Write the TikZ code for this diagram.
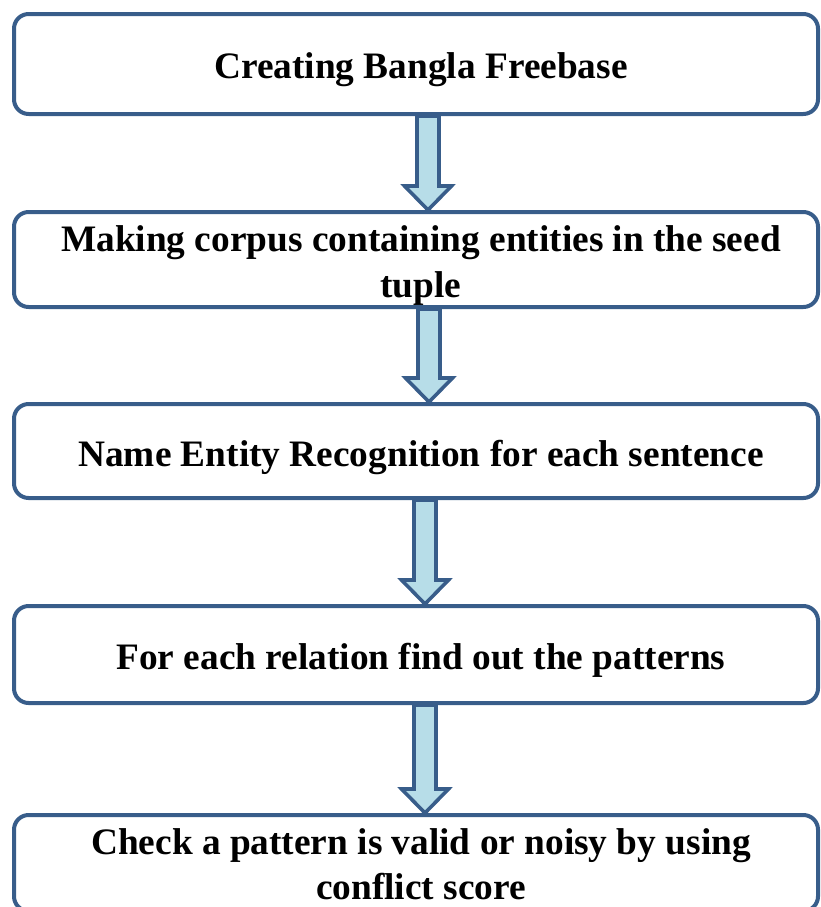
\documentclass[tikz,border=0pt]{standalone}
\usepackage{fontspec}
\setmainfont{Liberation Serif}
\usetikzlibrary{calc}
\definecolor{boxblue}{RGB}{56,93,138}
\definecolor{arrowfill}{RGB}{183,221,232}

\tikzset{
  stepframe/.style={draw=boxblue, line width=3pt, fill=white, rounded corners=11pt,
    minimum width=603pt, inner sep=0pt},
  stepbox/.style={stepframe, label={[steptext]center:#1}},
  steptext/.style={align=center, inner sep=0pt, xshift=3.75pt, yshift=-4.5pt,
    font=\fontsize{28}{34}\selectfont\bfseries},
  blockarrow/.style={draw=boxblue, line width=2.7pt, fill=arrowfill, line join=miter}
}

% block arrow from the bottom of #1 to the top of #2, centred at x=#3
\newcommand{\flowarrow}[3]{%
  \draw[blockarrow] let \p1=(#3,0), \p2=(#1.south), \p3=(#2.north) in
    (\x1-8.25pt,\y2) -- (\x1-8.25pt,\y3+18pt) -- (\x1-17.6pt,\y3+18pt) -- (\x1,\y3)
    -- (\x1+17.6pt,\y3+18pt) -- (\x1+8.25pt,\y3+18pt) -- (\x1+8.25pt,\y2) -- cycle;}

\begin{document}
\begin{tikzpicture}[x=0.75pt,y=-0.75pt]
\useasboundingbox (0,0) rectangle (821,907);
%the steps
\node[stepbox={Creating Bangla Freebase}, minimum height=75pt] (freebase) at (416,64) {};
\node[stepbox={Making corpus containing entities in the seed\\tuple}, minimum height=71.25pt] (corpus) at (416,259.5) {};
\node[stepbox={Name Entity Recognition for each sentence}, minimum height=70.5pt] (ner) at (416,451) {};
\node[stepbox={For each relation find out the patterns}, minimum height=72.75pt] (patterns) at (416,654.5) {};
\node[stepframe, minimum height=72pt,
      label={[steptext,yshift=3.5pt]center:{Check a pattern is valid or noisy by using\\conflict score}}] (check) at (416,863) {};
%the arrows between them
\flowarrow{freebase}{corpus}{428}
\flowarrow{corpus}{ner}{429}
\flowarrow{ner}{patterns}{425}
\flowarrow{patterns}{check}{425}
\end{tikzpicture}
\end{document}
